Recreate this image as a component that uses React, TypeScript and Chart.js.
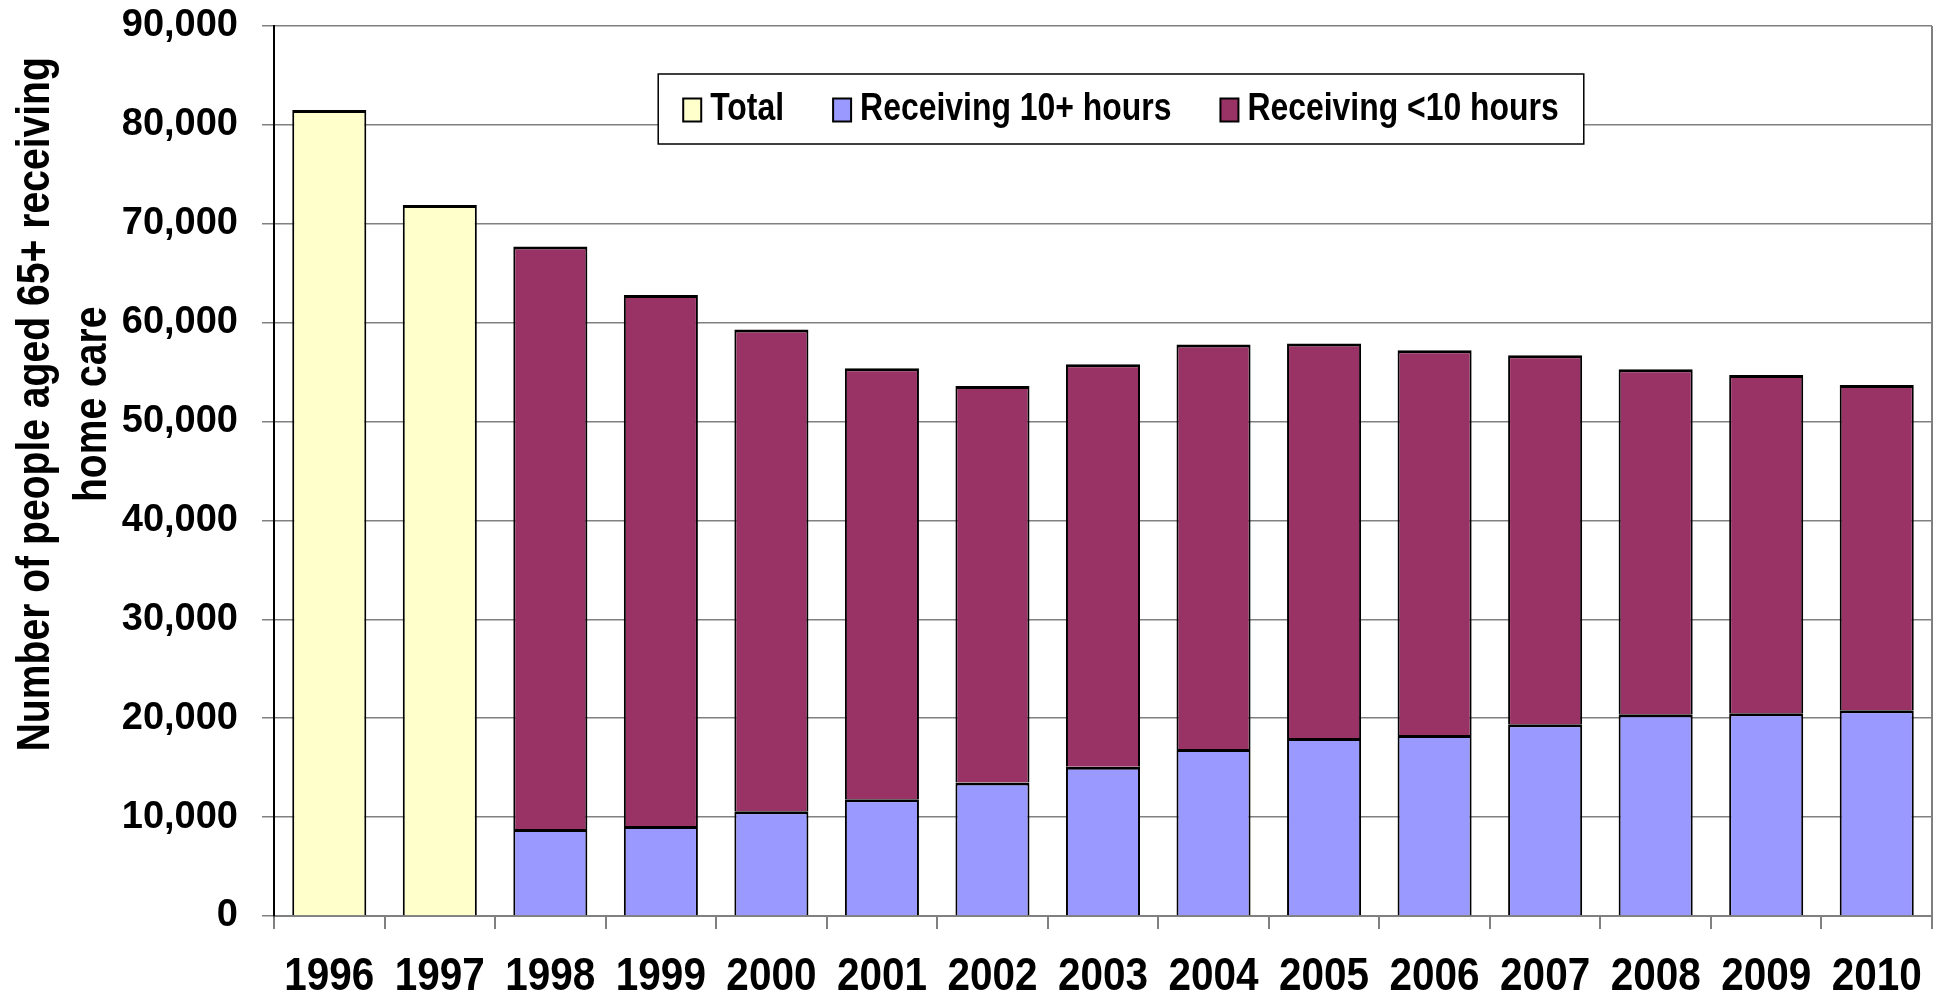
import React, { useEffect, useRef } from 'react';
import { Chart, registerables } from 'chart.js';

Chart.register(...registerables);

const years = ['1996', '1997', '1998', '1999', '2000', '2001', '2002', '2003', '2004', '2005', '2006', '2007', '2008', '2009', '2010'];
const totalValues = [81500, 71900, null, null, null, null, null, null, null, null, null, null, null, null, null];
const tenPlusValues = [null, null, 8800, 9100, 10600, 11800, 13500, 15100, 16900, 18000, 18300, 19400, 20400, 20500, 20800];
const underTenValues = [null, null, 58900, 53700, 48700, 43600, 40100, 40700, 40900, 39900, 38900, 37300, 34900, 34200, 32900];
const seriesLabels = ['Total', 'Receiving 10+ hours', 'Receiving <10 hours'];
const seriesColors = ['#FFFFCC', '#9999FF', '#993366'];
const yTitleLines = ['Number of people aged 65+ receiving', 'home care'];

const SANS = "'Liberation Sans', Arial, sans-serif";

const decorPlugin = {
  id: 'decor',
  afterDraw(chart: any) {
    const { ctx, chartArea } = chart;
    ctx.save();
    // right border of plot area
    ctx.strokeStyle = '#808080';
    ctx.lineWidth = 2;
    ctx.beginPath();
    ctx.moveTo(chartArea.right, chartArea.top);
    ctx.lineTo(chartArea.right, chartArea.bottom);
    ctx.stroke();

    // x-axis category labels (condensed), placed by the x scale
    const xScale = chart.scales.x;
    ctx.fillStyle = '#000';
    ctx.font = `bold 46px ${SANS}`;
    ctx.textAlign = 'center';
    ctx.textBaseline = 'alphabetic';
    xScale.ticks.forEach((t: any, i: number) => {
      const label = chart.data.labels[t.value];
      const px = xScale.getPixelForTick(i);
      ctx.save();
      ctx.translate(px, chartArea.bottom + 74);
      ctx.scale(0.88, 1);
      ctx.fillText(label, 0, 0);
      ctx.restore();
    });

    // y-axis title (condensed, two lines)
    ctx.font = `bold 46px ${SANS}`;
    ctx.textAlign = 'center';
    ctx.textBaseline = 'middle';
    const cy = chartArea.top + (chartArea.bottom - chartArea.top) * 0.425;
    const xs = [36, 93];
    yTitleLines.forEach((line, i) => {
      ctx.save();
      ctx.translate(xs[i], cy);
      ctx.rotate(-Math.PI / 2);
      ctx.scale(0.85, 1);
      ctx.fillText(line, 0, 0);
      ctx.restore();
    });

    // legend box
    const lScale = 0.84;
    ctx.font = `bold 38px ${SANS}`;
    const items = chart.data.datasets.map((ds: any) => ({
      label: ds.label,
      fill: ds.backgroundColor,
      w: ctx.measureText(ds.label).width * lScale,
    }));
    const sw = 18, sh = 23, gapBT = 9, gapItems = 49, padX = 25, boxH = 70;
    const contentW = items.reduce((s: number, it: any) => s + sw + gapBT + it.w, 0) + gapItems * (items.length - 1);
    const boxW = contentW + padX * 2;
    const centerX = chartArea.left + (chartArea.right - chartArea.left) / 2 + 18;
    const left = centerX - boxW / 2;
    const top = chartArea.top + 48;
    ctx.fillStyle = '#fff';
    ctx.fillRect(left, top, boxW, boxH);
    ctx.strokeStyle = '#000';
    ctx.lineWidth = 1.5;
    ctx.strokeRect(left, top, boxW, boxH);
    let x = left + padX;
    const midY = top + boxH / 2 + 1;
    ctx.textAlign = 'left';
    ctx.textBaseline = 'middle';
    items.forEach((it: any) => {
      ctx.fillStyle = it.fill;
      ctx.fillRect(x, midY - sh / 2, sw, sh);
      ctx.strokeStyle = '#000';
      ctx.lineWidth = 2;
      ctx.strokeRect(x, midY - sh / 2, sw, sh);
      ctx.fillStyle = '#000';
      ctx.save();
      ctx.translate(x + sw + gapBT, midY);
      ctx.scale(lScale, 1);
      ctx.fillText(it.label, 0, 0);
      ctx.restore();
      x += sw + gapBT + it.w + gapItems;
    });
    ctx.restore();
  },
};

export default function App() {
  const canvasRef = useRef<HTMLCanvasElement | null>(null);

  useEffect(() => {
    document.body.style.margin = '0';
    const canvas = canvasRef.current;
    if (!canvas) return;
    const makeDs = (i: number, data: (number | null)[]) => ({
      label: seriesLabels[i],
      data,
      backgroundColor: seriesColors[i],
      borderColor: '#000',
      borderWidth: { top: 3, left: 2, right: 2, bottom: 0 },
      borderSkipped: false,
    });
    const chart = new Chart(canvas, {
      type: 'bar',
      data: {
        labels: years,
        datasets: [makeDs(0, totalValues), makeDs(1, tenPlusValues), makeDs(2, underTenValues)],
      },
      options: {
        responsive: false,
        animation: false,
        devicePixelRatio: 1,
        layout: { padding: { top: 26, right: 3, left: 0, bottom: 0 } },
        datasets: { bar: { barPercentage: 0.67, categoryPercentage: 1 } },
        plugins: { legend: { display: false }, tooltip: { enabled: false } },
        scales: {
          x: {
            stacked: true,
            grid: { drawOnChartArea: false, tickLength: 13, color: '#808080', lineWidth: 2, offset: true },
            border: { color: '#808080', width: 2 },
            ticks: {
              font: { family: SANS, size: 30, weight: 'bold' },
              color: 'rgba(0,0,0,0)',
              padding: 10,
              maxRotation: 0,
              autoSkip: false,
            },
            afterFit: (s: any) => { s.height = 78; },
          },
          y: {
            stacked: true,
            min: 0,
            max: 90000,
            ticks: {
              stepSize: 10000,
              font: { family: SANS, size: 38, weight: 'bold' },
              color: '#000',
              padding: 24,
              callback: (v: any) => Number(v).toLocaleString('en-US'),
            },
            grid: { color: '#808080', lineWidth: 1.5, tickLength: 12 },
            border: { color: '#000', width: 2 },
            afterFit: (s: any) => { s.width = 274; s.paddingTop = 20; s.paddingBottom = 0; },
          },
        },
      },
      plugins: [decorPlugin],
    } as any);
    return () => chart.destroy();
  }, []);

  return (
    <div style={{ width: 1935, height: 994 }}>
      <canvas ref={canvasRef} width={1935} height={994} style={{ display: 'block' }} />
    </div>
  );
}
